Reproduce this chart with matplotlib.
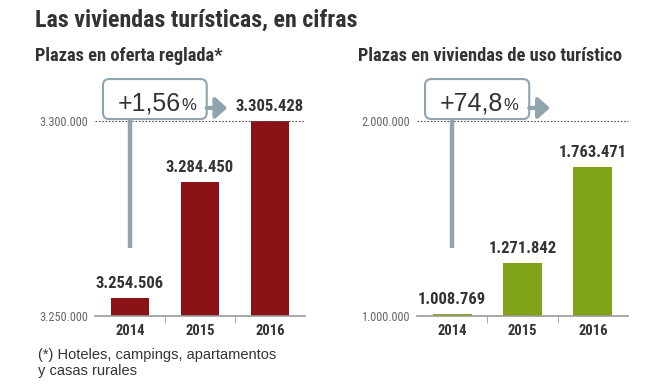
import matplotlib.pyplot as plt
import matplotlib.transforms as mtransforms
from matplotlib.patches import FancyBboxPatch, FancyArrowPatch

years = ["2014", "2015", "2016"]
plazas_reglada = [3254506, 3284450, 3305428]
plazas_vut = [1008769, 1271842, 1763471]
lims_reglada = [3250000, 3300000]
lims_vut = [1000000, 2000000]
var_reglada = "+1,56"
var_vut = "+74,8"

NARROW = ["Roboto Condensed", "DejaVu Sans"]
REG = ["Liberation Sans", "DejaVu Sans"]
DARK = "#333333"
LINE = "#8fa4af"

W, H = 664, 389
fig = plt.figure(figsize=(W / 100, H / 100), dpi=100)


def fmt(v):
    return f"{v:,}".replace(",", ".")


def panel(x0, x1, vals, lims, color, var):
    top, bot = 121, 316
    ax = fig.add_axes([x0 / W, 1 - bot / H, (x1 - x0) / W, (bot - top) / H])
    xs = range(len(years))
    ax.bar(xs, vals, width=0.55, bottom=0, color=color)
    ax.set_xlim(-0.5, 2.5)
    ax.set_ylim(lims[0], lims[1])
    for s in ["left", "right", "top"]:
        ax.spines[s].set_visible(False)
    ax.spines["bottom"].set_color("#9a9a9a")
    ax.spines["bottom"].set_linewidth(1.2)
    ax.axhline(lims[1], color="#555555", lw=0.8, ls=(0, (1.5, 1.5)), clip_on=False)
    ax.set_yticks(lims)
    ax.set_yticklabels([fmt(v) for v in lims], family=NARROW, fontsize=8.8, color="#666666")
    ax.tick_params(axis="y", length=0, pad=5)
    ax.set_xticks([0.5, 1.5], minor=True)
    ax.set_xticks(list(xs))
    ax.set_xticklabels(years, family=NARROW, fontsize=10.5, fontweight="bold", color=DARK)
    ax.tick_params(axis="x", which="major", length=0, pad=6)
    ax.tick_params(axis="x", which="minor", length=5, color="#9a9a9a", direction="out")
    for i, v in enumerate(vals):
        ax.annotate(fmt(v), (i, min(v, lims[1])), xytext=(0, 5), textcoords="offset points",
                    ha="center", va="bottom", family=NARROW, fontsize=12,
                    fontweight="bold", color=DARK)

    # variation callout
    trans = mtransforms.blended_transform_factory(ax.transData, ax.transAxes)
    ax.plot([0, 0], [0.349, 1.01], transform=trans, color=LINE, lw=3.2,
            solid_capstyle="butt", clip_on=False)
    bx0, bx1 = 0.038, 0.532
    box = FancyBboxPatch((bx0, 1.01), bx1 - bx0, 0.205, transform=ax.transAxes,
                         boxstyle="round,pad=0,rounding_size=0.03", mutation_aspect=1.07,
                         facecolor="white", edgecolor=LINE, lw=1.5, clip_on=False)
    ax.add_patch(box)
    arr = FancyArrowPatch((bx1, 1.067), (0.63, 1.067), transform=ax.transAxes,
                          arrowstyle="-|>,head_length=0.5,head_width=0.45", mutation_scale=14,
                          color=LINE, lw=3, shrinkA=0, shrinkB=0, clip_on=False)
    ax.add_patch(arr)
    ax.text(0.41, 1.055, var, transform=ax.transAxes, ha="right", va="baseline",
            family=REG, fontsize=18, color=DARK)
    ax.text(0.41, 1.055, "%", transform=ax.transAxes, ha="left", va="baseline",
            family=REG, fontsize=12, color=DARK)
    return ax


panel(95, 305, plazas_reglada, lims_reglada, "#8b1216", var_reglada)
panel(417, 628, plazas_vut, lims_vut, "#80a317", var_vut)

fig.text(35 / W, 1 - 20 / H, "Las viviendas turísticas, en cifras", family=NARROW,
         fontsize=17.3, fontweight="bold", color=DARK, va="center")
fig.text(35 / W, 1 - 56 / H, "Plazas en oferta reglada*", family=NARROW,
         fontsize=13.2, fontweight="bold", color=DARK, va="center")
fig.text(358 / W, 1 - 56 / H, "Plazas en viviendas de uso turístico", family=NARROW,
         fontsize=13.2, fontweight="bold", color=DARK, va="center")
fig.text(38 / W, 1 - 363 / H, "(*) Hoteles, campings, apartamentos\ny casas rurales",
         family=REG, fontsize=10.5, color=DARK, va="center", linespacing=1.1)

fig.savefig("out.png", dpi=100)
